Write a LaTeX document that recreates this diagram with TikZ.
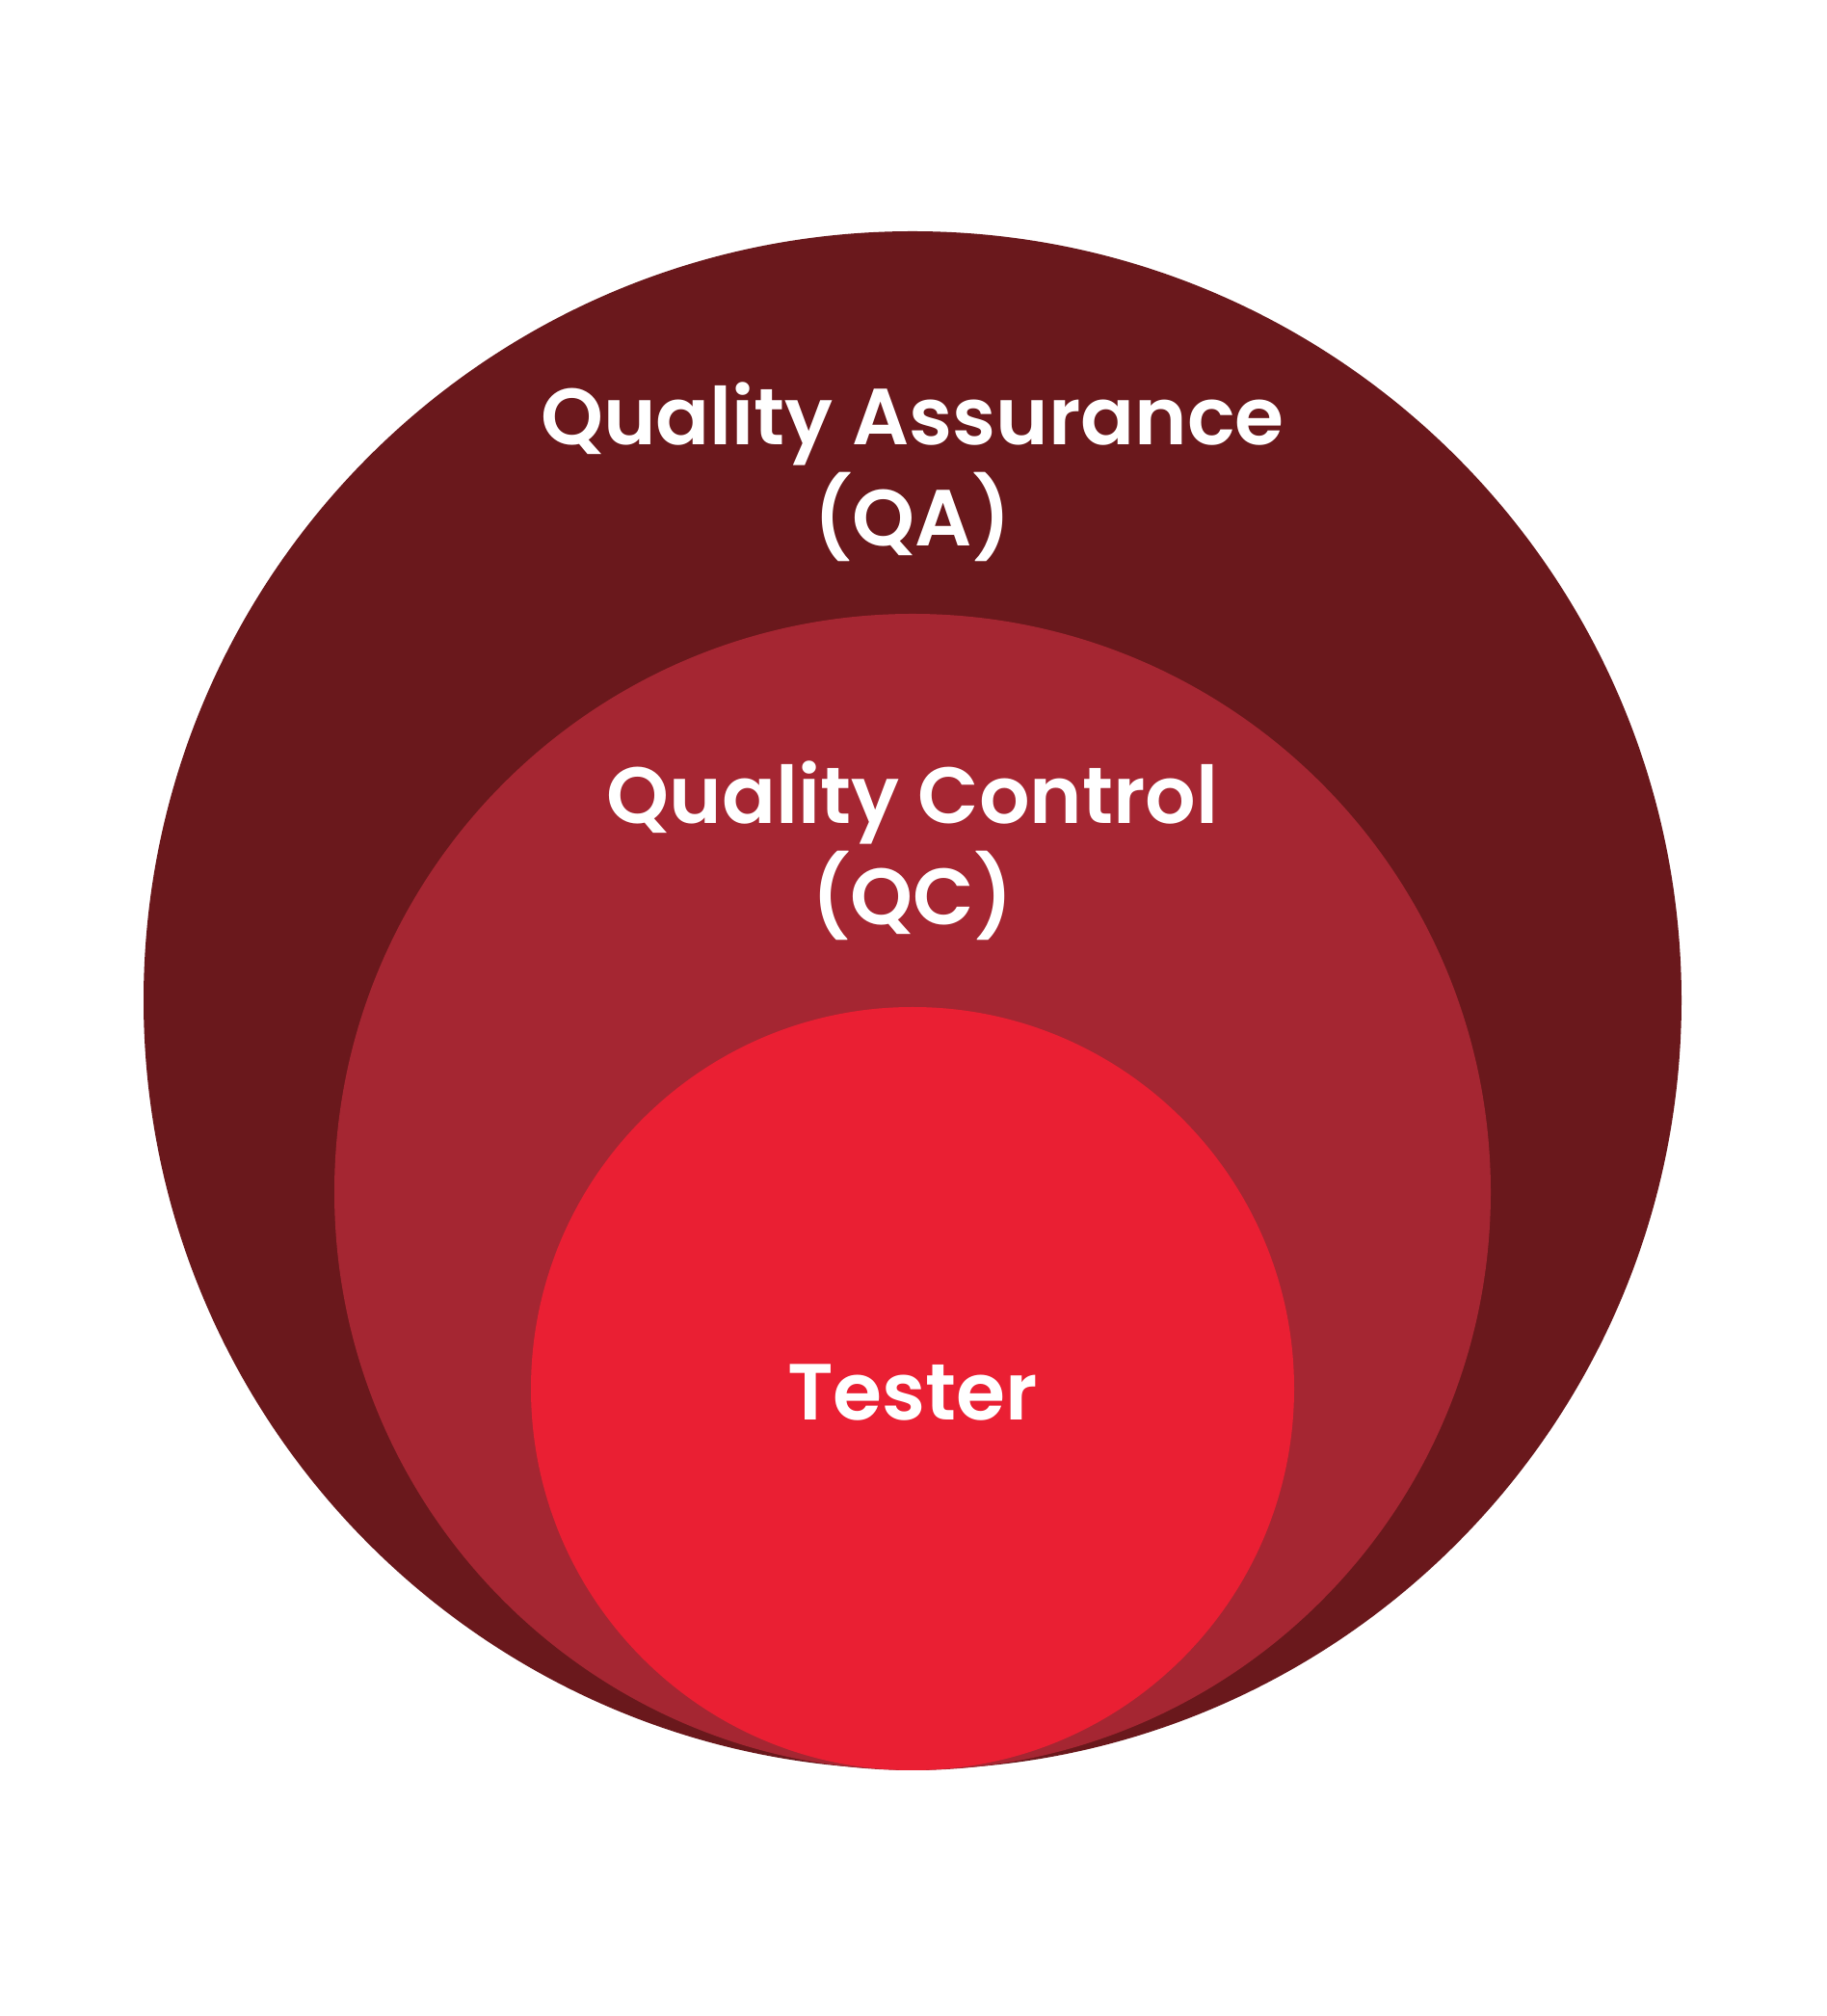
\documentclass[tikz,border=0pt]{standalone}
\usepackage{fontspec}
\setmainfont{Poppins}[UprightFont=* SemiBold, BoldFont=* Bold]
\definecolor{qadark}{HTML}{6A181C}
\definecolor{qcmid}{HTML}{A52632}
\definecolor{testred}{HTML}{EA1F33}
\tikzset{
  ring/.style={draw=none, circle, inner sep=0pt},
  ringlabel/.style={text=white, align=center, font=\fontsize{23.5}{29.8}\selectfont}
}
\begin{document}
\begin{tikzpicture}
\useasboundingbox[fill=white] (0,0) rectangle (18.96,20.92);

\node[ring, fill=qadark, minimum size=15.96cm] (qa) at (9.47,10.54) {};
\node[ring, fill=qcmid, minimum size=12.00cm] (qc) at (9.47,8.55) {};
\node[ring, fill=testred, minimum size=7.92cm] (tester) at (9.47,6.51) {};

\node[ringlabel] (qatext) at (9.47,16.02) {Quality Assurance\\(QA)};
\node[ringlabel] (qctext) at (9.47,12.09) {Quality Control\\(QC)};
\node[ringlabel] (testertext) at (9.47,6.47) {Tester};
\end{tikzpicture}
\end{document}
